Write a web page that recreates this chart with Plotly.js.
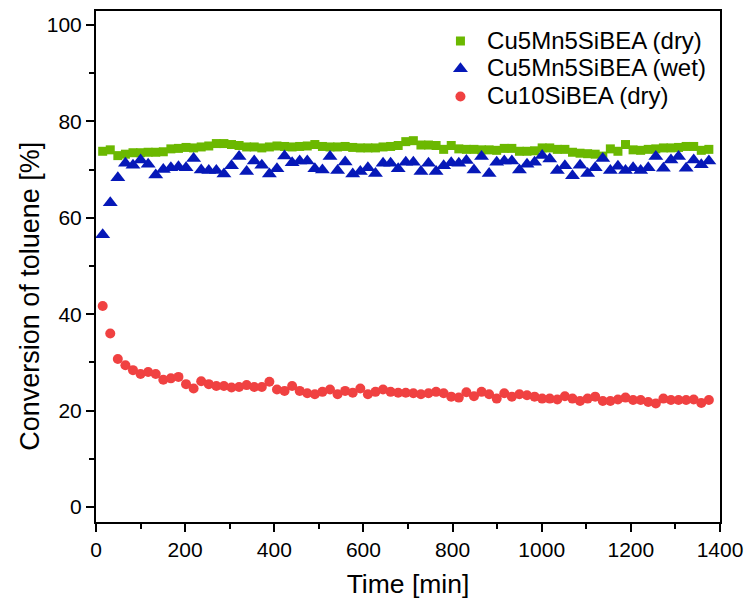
<!DOCTYPE html>
<html><head><meta charset="utf-8">
<script src="https://cdn.plot.ly/plotly-3.0.1.min.js"></script>
<style>html,body{margin:0;padding:0;background:#fff}#chart{width:747px;height:600px}</style>
</head><body><div id="chart"></div>
<script>
const timeMin = [15,32,49,66,83,100,117,134,151,168,185,202,219,236,253,270,287,304,321,338,355,372,389,406,423,440,457,474,491,508,525,542,559,576,593,610,627,644,661,678,695,712,729,746,763,780,797,814,831,848,865,882,899,916,933,950,967,984,1001,1018,1035,1052,1069,1086,1103,1120,1137,1154,1171,1188,1205,1222,1239,1256,1273,1290,1307,1324,1341,1358,1375];
const cuMnDry = [73.8,74.1,72.9,73.2,73.5,73.5,73.6,73.6,73.7,74.3,74.4,74.6,74.5,74.7,74.9,75.4,75.4,75.2,75.0,74.7,74.7,74.5,74.7,74.9,74.8,74.7,74.8,74.9,75.2,74.8,74.7,74.7,74.8,74.6,74.5,74.5,74.5,74.7,74.8,75.0,75.8,76.0,75.1,75.1,75.0,74.2,75.0,74.3,74.2,74.2,74.1,74.1,74.0,74.4,74.4,73.8,73.8,73.9,74.5,74.5,74.2,74.2,73.6,73.4,73.3,73.2,72.8,74.3,73.8,75.2,74.1,74.0,74.2,74.3,74.5,74.5,74.6,74.8,74.8,74.0,74.2];
const cuMnWet = [56.5,63.1,68.3,71.3,70.9,72.0,71.1,68.9,70.0,70.4,70.6,70.4,72.3,69.9,69.8,69.8,69.1,70.8,72.7,69.6,71.8,70.9,69.1,70.2,72.8,71.4,71.8,71.8,70.2,69.9,72.7,69.8,71.6,69.1,69.6,70.4,69.2,71.3,71.3,70.2,71.5,71.5,69.6,71.3,69.6,70.8,71.4,71.3,71.9,69.9,72.7,69.2,71.5,71.8,71.8,69.9,71.1,71.5,72.9,72.2,69.8,70.8,68.7,70.9,69.2,70.4,72.3,69.8,70.7,69.8,70.4,69.8,70.4,72.7,70.3,72.0,72.7,70.3,72.0,71.0,71.8];
const cu10Dry = [41.7,36.0,30.7,29.4,28.4,27.6,28.0,27.6,26.4,26.7,27.0,25.5,24.6,26.1,25.5,25.1,25.1,24.8,24.9,25.3,24.9,24.9,26.0,24.4,24.1,25.1,24.1,23.6,23.4,23.9,24.4,23.4,24.1,23.7,24.6,23.4,23.9,24.4,23.9,23.7,23.7,23.6,23.4,23.6,23.9,23.6,22.9,22.7,23.8,23.0,23.9,23.4,22.5,23.6,22.9,23.4,23.2,22.9,22.5,22.5,22.3,23.0,22.5,22.0,22.5,22.9,22.0,22.0,22.3,22.7,22.2,22.2,21.8,21.5,22.5,22.2,22.2,22.2,22.3,21.6,22.2];
const seriesNames = ['Cu5Mn5SiBEA (dry)','Cu5Mn5SiBEA (wet)','Cu10SiBEA (dry)'];
const xTicks = [0,200,400,600,800,1000,1200,1400];
const yTicks = [0,20,40,60,80,100];
const xTitle = 'Time [min]';
const yTitle = 'Conversion of toluene [%]';

const FONT = 'Arial, "Liberation Sans", sans-serif';
const legName = n => '<span style="font-size:24px">\u00a0' + n + '</span>';
const traces = [
  {x: timeMin, y: cuMnDry, name: legName(seriesNames[0]), type:'scatter', mode:'markers',
   marker:{symbol:'square', size:9, color:'#6bb800'}},
  {x: timeMin, y: cuMnWet, name: legName(seriesNames[1]), type:'scatter', mode:'markers',
   marker:{symbol:'triangle-up', size:13, color:'#0618b8'}},
  {x: timeMin, y: cu10Dry, name: legName(seriesNames[2]), type:'scatter', mode:'markers',
   marker:{symbol:'circle', size:10, color:'#f04141'}}
];
const axisCommon = {
  showgrid:false, zeroline:false, showline:true, linecolor:'#000', linewidth:2,
  mirror:true, ticks:'outside', ticklen:8, tickwidth:2, tickcolor:'#000',
  tickfont:{family:FONT, size:21, color:'#000'}
};
const layout = {
  width:747, height:600,
  margin:{l:96, r:27, t:11, b:78},
  paper_bgcolor:'#fff', plot_bgcolor:'#fff',
  showlegend:true,
  legend:{x:0.552, xanchor:'left', y:0.978, yanchor:'top',
    font:{family:FONT, size:19, color:'#000'}, bgcolor:'rgba(0,0,0,0)', itemwidth:30},
  xaxis: Object.assign({}, axisCommon, {
    range:[0,1400], tickvals:xTicks, ticktext:xTicks.map(String),
    minor:{dtick:100, ticks:'outside', ticklen:5, tickwidth:2, tickcolor:'#000', tick0:0},
    title:{text:xTitle, font:{family:FONT, size:26.5, color:'#000'}, standoff:14}
  }),
  yaxis: Object.assign({}, axisCommon, {
    range:[-3.1,102.9], tickvals:yTicks, ticktext:yTicks.map(String),
    minor:{dtick:10, ticks:'outside', ticklen:5, tickwidth:2, tickcolor:'#000', tick0:0}
  }),
  annotations:[{
    text:yTitle, textangle:-90, showarrow:false,
    xref:'paper', yref:'paper', x:-0.106, y:0.4423, xanchor:'center', yanchor:'middle',
    font:{family:FONT, size:27, color:'#000'}
  }]
};
Plotly.newPlot('chart', traces, layout, {displayModeBar:false, staticPlot:true});
</script></body></html>
